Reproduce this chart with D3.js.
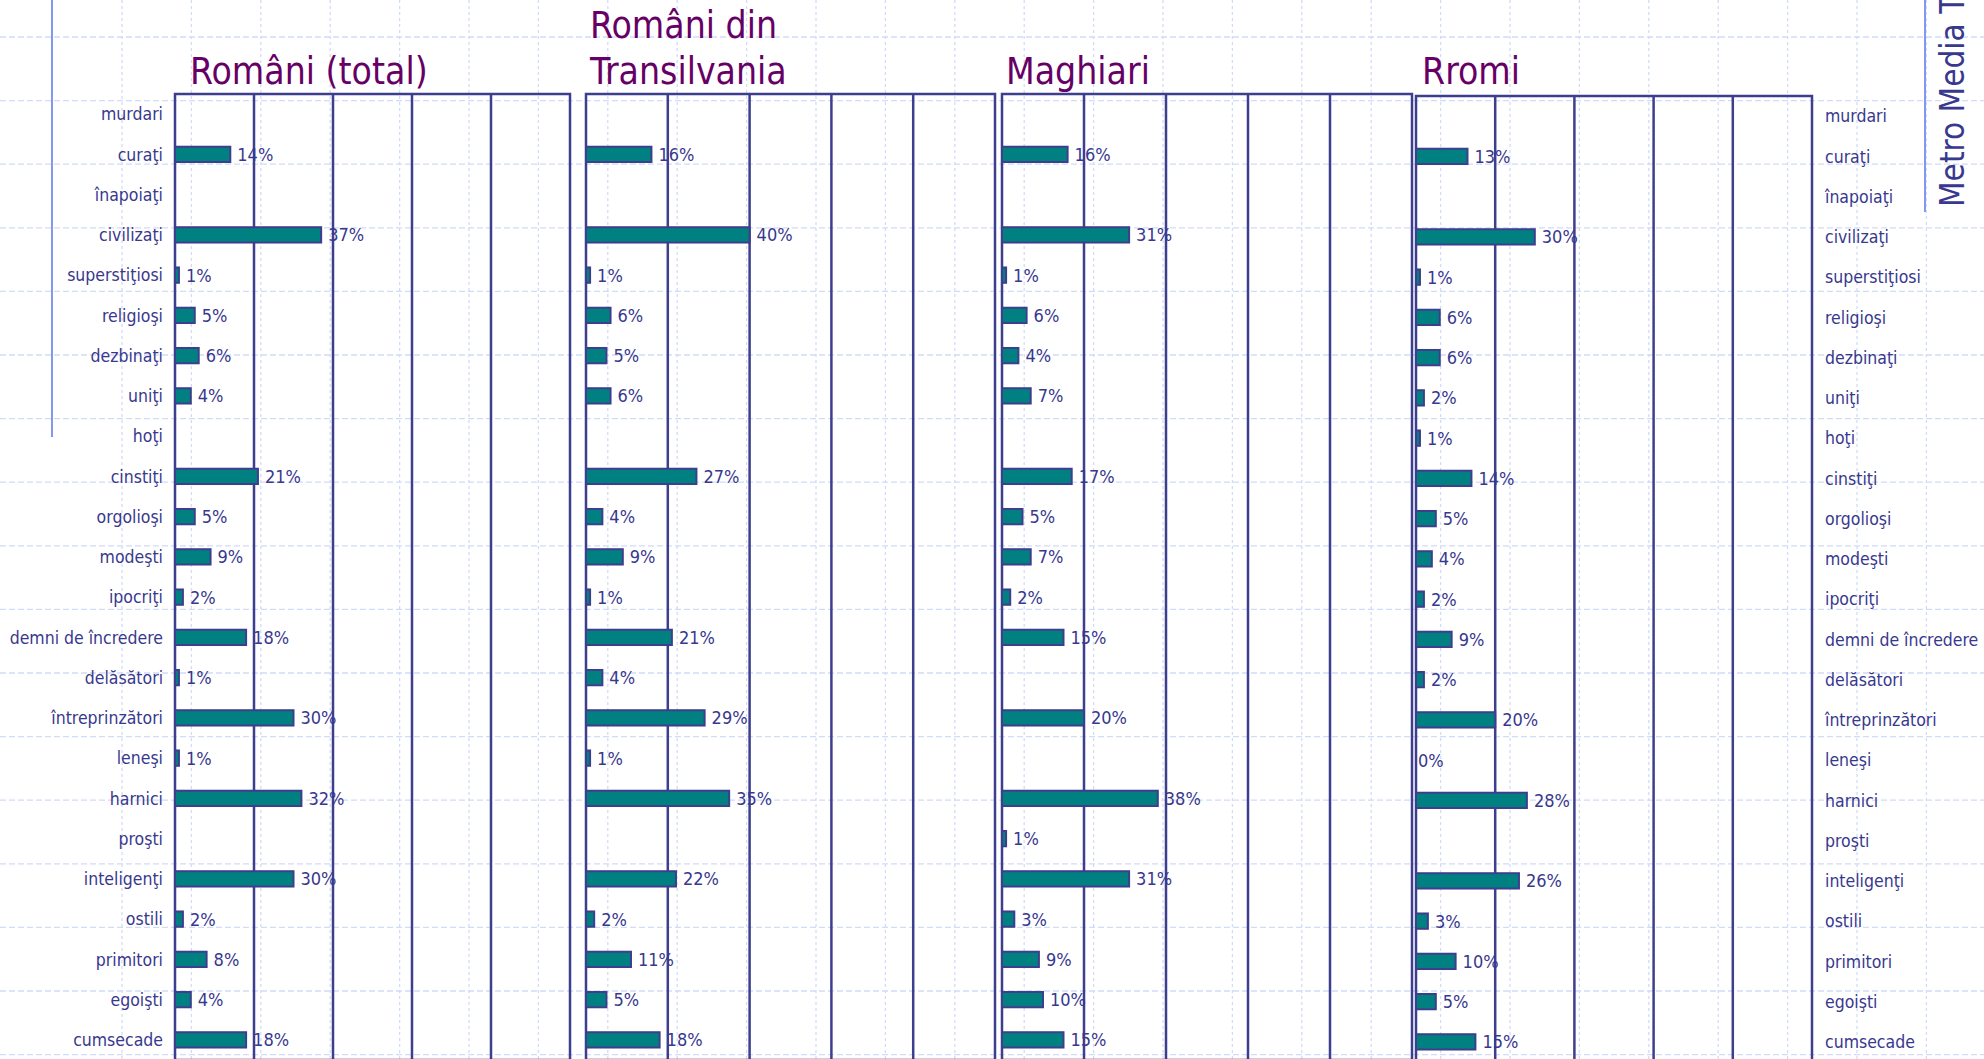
<!DOCTYPE html>
<html>
<head>
<meta charset="utf-8">
<script src="https://cdn.jsdelivr.net/npm/d3@7"></script>
<style>
  body { margin: 0; background: #fff; }
  text { font-family: "DejaVu Sans Condensed", "DejaVu Sans", sans-serif; }
</style>
</head>
<body>
<div id="chart"></div>
<script>

// categories, top to bottom
var categories = ["murdari", "curaţi", "înapoiaţi", "civilizaţi", "superstiţiosi", "religioşi",
  "dezbinaţi", "uniţi", "hoţi", "cinstiţi", "orgolioşi", "modeşti", "ipocriţi",
  "demni de încredere", "delăsători", "întreprinzători", "leneşi", "harnici", "proşti",
  "inteligenţi", "ostili", "primitori", "egoişti", "cumsecade"];

// percentages per group (null = no answer shown)
var romaniTotal        = [null, 14, null, 37, 1, 5, 6, 4, null, 21, 5, 9, 2, 18, 1, 30, 1, 32, null, 30, 2, 8, 4, 18];
var romaniTransilvania = [null, 16, null, 40, 1, 6, 5, 6, null, 27, 4, 9, 1, 21, 4, 29, 1, 35, null, 22, 2, 11, 5, 18];
var maghiari           = [null, 16, null, 31, 1, 6, 4, 7, null, 17, 5, 7, 2, 15, null, 20, null, 38, 1, 31, 3, 9, 10, 15];
var rromi              = [null, 13, null, 30, 1, 6, 6, 2, 1, 14, 5, 4, 2, 9, 2, 20, 0, 28, null, 26, 3, 10, 5, 15];

var titles = [["Români (total)"], ["Români din", "Transilvania"], ["Maghiari"], ["Rromi"]];
var sideText = "Metro Media Transilvania";

var lineColor = "#3e3e8e",
    textColor = "#38388e",
    titleColor = "#660066",
    barColor = "#008080",
    guideColor = "#d2dcf8";

var width = 1984, height = 1059;

var svg = d3.select("#chart")
  .append("svg")
    .attr("width", width)
    .attr("height", height);

// slide guide grid in the background
svg.append("g").selectAll("line")
  .data(d3.range(1, 28).map(function(k) { return 52.6 + 69.4 * k; }))
  .join("line")
    .attr("x1", function(d) { return d; })
    .attr("x2", function(d) { return d; })
    .attr("y1", 0).attr("y2", height)
    .attr("stroke", guideColor)
    .attr("stroke-width", 1.3)
    .attr("stroke-dasharray", "3,3");

svg.append("g").selectAll("line")
  .data(d3.range(0, 17).map(function(k) { return 37 + 63.6 * k; }))
  .join("line")
    .attr("x1", 0).attr("x2", width)
    .attr("y1", function(d) { return d; })
    .attr("y2", function(d) { return d; })
    .attr("stroke", guideColor)
    .attr("stroke-width", 1.3)
    .attr("stroke-dasharray", "6,3");

// solid slide lines
svg.append("line").attr("x1", 52).attr("x2", 52).attr("y1", 0).attr("y2", 437)
  .attr("stroke", "#8197f2").attr("stroke-width", 2);
svg.append("line").attr("x1", 1925).attr("x2", 1925).attr("y1", 0).attr("y2", 212)
  .attr("stroke", "#8197f2").attr("stroke-width", 2);

svg.append("text")
  .attr("transform", "translate(1964,207) rotate(-90)")
  .attr("font-size", 33)
  .attr("fill", textColor)
  .text(sideText);

var panels = [
  {values: romaniTotal,        title: titles[0], left: 175,  right: 570,  top: 94, bottom: 1060, titleX: 190},
  {values: romaniTransilvania, title: titles[1], left: 586,  right: 995,  top: 94, bottom: 1060, titleX: 590},
  {values: maghiari,           title: titles[2], left: 1002, right: 1412, top: 94, bottom: 1060, titleX: 1006},
  {values: rromi,              title: titles[3], left: 1416, right: 1812, top: 96, bottom: 1062, titleX: 1422}
];

function drawPanel(p, i) {
  var x = d3.scaleLinear().domain([0, 100]).range([p.left, p.right]);
  var y = d3.scaleBand().domain(categories)
    .range([p.top, p.bottom])
    .paddingInner(0.62)
    .paddingOuter(0.31);

  var g = svg.append("g");

  // title, last line sits at the same baseline for every panel
  g.selectAll("text.title")
    .data(p.title)
    .join("text")
      .attr("class", "title")
      .attr("x", p.titleX)
      .attr("y", function(d, j) { return 84 - (p.title.length - 1 - j) * 46; })
      .attr("font-size", 37)
      .attr("fill", titleColor)
      .text(function(d) { return d; });

  // vertical grid lines every 20%
  g.selectAll("line.grid")
    .data(x.ticks(5).filter(function(t) { return t > 0 && t < 100; }))
    .join("line")
      .attr("class", "grid")
      .attr("x1", function(d) { return x(d); })
      .attr("x2", function(d) { return x(d); })
      .attr("y1", p.top).attr("y2", p.bottom)
      .attr("stroke", lineColor)
      .attr("stroke-width", 2.5);

  g.append("rect")
    .attr("x", p.left).attr("y", p.top)
    .attr("width", p.right - p.left)
    .attr("height", p.bottom - p.top)
    .attr("fill", "none")
    .attr("stroke", lineColor)
    .attr("stroke-width", 2.5);

  var rows = categories.map(function(c, k) { return {cat: c, v: p.values[k]}; })
    .filter(function(d) { return d.v !== null; });

  g.selectAll("rect.bar")
    .data(rows.filter(function(d) { return d.v > 0; }))
    .join("rect")
      .attr("class", "bar")
      .attr("x", x(0))
      .attr("y", function(d) { return y(d.cat); })
      .attr("width", function(d) { return x(d.v) - x(0); })
      .attr("height", y.bandwidth())
      .attr("fill", barColor)
      .attr("stroke", lineColor)
      .attr("stroke-width", 2);

  g.selectAll("text.value")
    .data(rows)
    .join("text")
      .attr("class", "value")
      .attr("x", function(d) { return x(d.v) + (d.v > 0 ? 7 : 2); })
      .attr("y", function(d) { return y(d.cat) + y.bandwidth() / 2; })
      .attr("dy", "0.36em")
      .attr("font-size", 18)
      .attr("fill", textColor)
      .text(function(d) { return d.v + "%"; });

  // category names left of the first panel and right of the last one
  if (i === 0 || i === panels.length - 1) {
    g.selectAll("text.cat")
      .data(categories)
      .join("text")
        .attr("class", "cat")
        .attr("x", i === 0 ? p.left - 12 : p.right + 13)
        .attr("y", function(d) { return y(d) + y.bandwidth() / 2; })
        .attr("dy", "0.36em")
        .attr("text-anchor", i === 0 ? "end" : "start")
        .attr("font-size", 17.5)
        .attr("fill", textColor)
        .text(function(d) { return d; });
  }
}

panels.forEach(drawPanel);

</script>
</body>
</html>
